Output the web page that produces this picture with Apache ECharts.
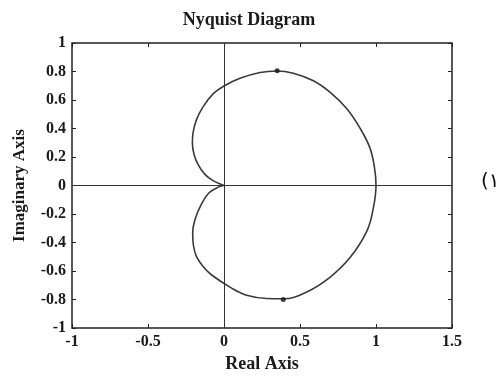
<!DOCTYPE html>
<html>
<head>
<meta charset="utf-8">
<script src="https://cdn.jsdelivr.net/npm/echarts@6/dist/echarts.min.js"></script>
<style>html,body{margin:0;padding:0;background:#fff;}#c{width:498px;height:378px;}</style>
</head>
<body>
<div id="c"></div>
<script>
// Nyquist curve (real, imaginary)
const curveRe = [0, -0.072, -0.127, -0.171, -0.197, -0.208, -0.204, -0.182, -0.138, -0.072, 0, 0.105, 0.237, 0.347, 0.456, 0.588, 0.697, 0.807, 0.895, 0.96, 0.99, 1.0,
                 0.982, 0.939, 0.829, 0.697, 0.544, 0.39, 0.28, 0.149, 0.05, -0.081, -0.136, -0.18, -0.201, -0.206, -0.19, -0.155, -0.1, -0.03, 0];
const curveIm = [0, 0.034, 0.08, 0.149, 0.218, 0.299, 0.368, 0.459, 0.552, 0.643, 0.698, 0.752, 0.793, 0.804, 0.788, 0.735, 0.655, 0.54, 0.402, 0.264, 0.126, 0,
                 -0.161, -0.322, -0.506, -0.644, -0.747, -0.795, -0.793, -0.77, -0.72, -0.628, -0.57, -0.501, -0.421, -0.329, -0.237, -0.145, -0.053, -0.008, 0];
const markRe = [0.35, 0.39];
const markIm = [0.805, -0.80];
const xTicks = [-1, -0.5, 0, 0.5, 1, 1.5];
const yTicks = [-1, -0.8, -0.6, -0.4, -0.2, 0, 0.2, 0.4, 0.6, 0.8, 1];

const curve = curveRe.map((x, i) => [x, curveIm[i]]);
const marks = markRe.map((x, i) => [x, markIm[i]]);
const serif = '"Liberation Serif", "DejaVu Serif", serif';
const ink = '#1a1a1a';

const chart = echarts.init(document.getElementById('c'), null, {renderer: 'canvas'});
chart.setOption({
  animation: false,
  backgroundColor: '#fff',
  title: {
    text: 'Nyquist Diagram', left: 'center', top: 6,
    textStyle: {fontFamily: serif, fontWeight: 'bold', fontSize: 18, color: ink}
  },
  grid: {left: 72, right: 46, top: 43, bottom: 45, show: true, borderColor: '#222', borderWidth: 1.5},
  xAxis: [{
    type: 'value', min: xTicks[0], max: xTicks[xTicks.length - 1], interval: 0.5,
    position: 'bottom',
    name: 'Real Axis', nameLocation: 'middle', nameGap: 27,
    nameTextStyle: {fontFamily: serif, fontWeight: 'bold', fontSize: 18, color: ink},
    axisLine: {show: false, onZero: false},
    axisTick: {show: true, inside: true, length: 4, lineStyle: {color: '#222'}},
    axisLabel: {fontFamily: serif, fontWeight: 'bold', fontSize: 16, color: ink, margin: 6},
    splitLine: {show: false}
  }, {
    type: 'value', min: xTicks[0], max: xTicks[xTicks.length - 1], interval: 0.5,
    position: 'top',
    axisLine: {show: false, onZero: false},
    axisTick: {show: true, inside: true, length: 4, lineStyle: {color: '#222'}},
    axisLabel: {show: false}, splitLine: {show: false}
  }],
  yAxis: [{
    type: 'value', min: yTicks[0], max: yTicks[yTicks.length - 1], interval: 0.2,
    position: 'left',
    name: 'Imaginary Axis', nameLocation: 'middle', nameGap: 44, nameRotate: 90,
    nameTextStyle: {fontFamily: serif, fontWeight: 'bold', fontSize: 17, color: ink},
    axisLine: {show: false, onZero: false},
    axisTick: {show: true, inside: true, length: 4, lineStyle: {color: '#222'}},
    axisLabel: {fontFamily: serif, fontWeight: 'bold', fontSize: 16, color: ink, margin: 6,
      formatter: v => String(Math.round(v * 10) / 10)},
    splitLine: {show: false}
  }, {
    type: 'value', min: yTicks[0], max: yTicks[yTicks.length - 1], interval: 0.2,
    position: 'right',
    axisLine: {show: false, onZero: false},
    axisTick: {show: true, inside: true, length: 4, lineStyle: {color: '#222'}},
    axisLabel: {show: false}, splitLine: {show: false}
  }],
  series: [{
    type: 'line', data: curve, smooth: 0.4, showSymbol: false,
    lineStyle: {color: '#3a3a3a', width: 1.6},
    markLine: {
      silent: true, symbol: ['none', 'none'], label: {show: false},
      lineStyle: {color: '#333', width: 1, type: 'solid'},
      data: [{xAxis: 0}, {yAxis: 0}]
    },
    z: 3
  }, {
    type: 'scatter', data: marks, symbol: 'circle', symbolSize: 5,
    itemStyle: {color: '#111'}, z: 4
  }],
  graphic: [{
    type: 'text', left: 481, top: 172,
    style: {text: '(١)', fontFamily: '"DejaVu Sans", sans-serif', fontSize: 20, fill: '#111'}
  }]
});
</script>
</body>
</html>
